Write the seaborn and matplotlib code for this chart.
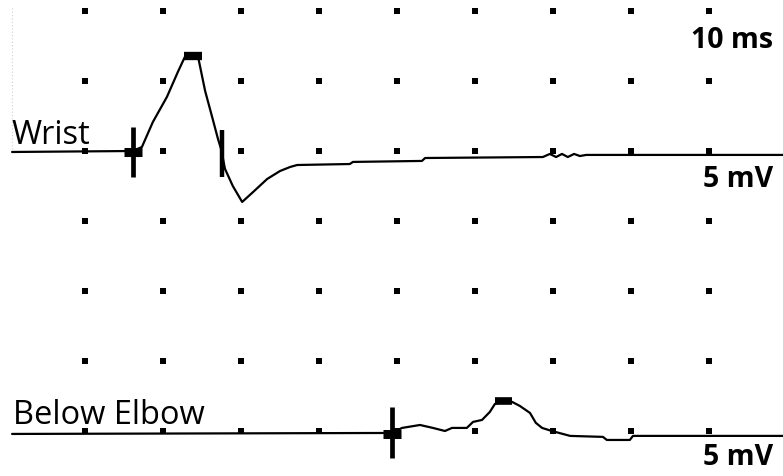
import numpy as np
import pandas as pd
import matplotlib.pyplot as plt
import seaborn as sns

# time in ms, amplitude in mV relative to each trace's own baseline
wrist_t = [0.13, 3.23, 3.46, 3.74, 4.10, 4.38, 4.56, 4.77, 4.90, 5.08, 5.26, 5.41, 5.49,
           5.59, 5.79, 6.03, 6.31, 6.67, 7.00, 7.26, 7.44, 8.79, 8.87, 10.64, 10.72,
           13.74, 13.92, 14.08, 14.23, 14.38, 14.54, 14.69, 14.85, 19.90]
wrist_mv = [0.0, 0.07, 0.36, 2.14, 3.93, 5.71, 6.79, 6.86, 6.79, 4.36, 2.50, 0.93, 0.21,
            -1.21, -2.43, -3.57, -2.86, -1.93, -1.36, -1.07, -0.93, -0.86, -0.71, -0.64, -0.43,
            -0.36, -0.14, -0.36, -0.14, -0.36, -0.14, -0.29, -0.21, -0.21]

elbow_t = [0.13, 9.87, 10.13, 10.59, 10.92, 11.23, 11.41, 11.79, 11.95, 12.18, 12.38,
           12.51, 12.72, 12.95, 13.15, 13.41, 13.56, 13.72, 13.97, 14.44, 15.28, 15.38,
           15.97, 16.05, 19.90]
elbow_mv = [0.0, 0.07, 0.43, 0.64, 0.43, 0.21, 0.43, 0.43, 0.86, 1.0, 1.57,
            2.14, 2.29, 2.29, 2.0, 1.5, 0.79, 0.43, 0.21, -0.14, -0.21, -0.43,
            -0.43, -0.14, -0.14]

# cursor latencies (ms)
wrist_onset, wrist_peak, wrist_end = 3.23, 4.77, 5.51
elbow_onset, elbow_peak = 9.87, 12.72

# baseline of each trace on the screen (mV)
wrist_base = 19.93
elbow_base = -0.21

grid_t = [2, 4, 6, 8, 10, 12, 14, 16, 18]
grid_mv = [0, 5, 10, 15, 20, 25, 30]

sns.set_theme(style="white")
plt.rcParams["font.family"] = ["Open Sans", "DejaVu Sans"]

fig = plt.figure(figsize=(7.83, 4.77), dpi=100)
ax = fig.add_axes([0, 0, 1, 1])

gx, gy = np.meshgrid(grid_t, grid_mv)
sns.scatterplot(x=gx.ravel(), y=gy.ravel(), s=14, color="black", marker="s",
                linewidth=0, ax=ax, legend=False)

traces = pd.concat([
    pd.DataFrame({"t": wrist_t, "mv": np.array(wrist_mv) + wrist_base, "site": "Wrist"}),
    pd.DataFrame({"t": elbow_t, "mv": np.array(elbow_mv) + elbow_base, "site": "Below Elbow"}),
])
sns.lineplot(data=traces, x="t", y="mv", units="site", estimator=None, sort=False,
             color="black", lw=1.6, ax=ax, legend=False)

# faint left edge marker
ax.vlines(0.13, wrist_base + 0.2, 30.3, color="#cfcfcf", lw=0.8, linestyles=(0, (1, 2)))

# cursors
def cross(t, base, up, down):
    ax.vlines(t, base - down, base + up, color="black", lw=3.4)
    ax.hlines(base, t - 0.22, t + 0.22, color="black", lw=6.5)

cross(wrist_onset, wrist_base, 1.8, 1.8)
ax.vlines(wrist_end, wrist_base - 1.8, wrist_base + 1.6, color="black", lw=3.2)
ax.hlines(wrist_base + np.interp(wrist_peak, wrist_t, wrist_mv), wrist_peak - 0.22,
          wrist_peak + 0.22, color="black", lw=6)

cross(elbow_onset, elbow_base, 1.9, 1.7)
ax.hlines(elbow_base + np.interp(elbow_peak, elbow_t, elbow_mv) + 0.05, elbow_peak - 0.22,
          elbow_peak + 0.22, color="black", lw=5.5)

ax.text(0.12, 20.6, "Wrist", fontsize=23.5, color="black", va="baseline", ha="left")
ax.text(0.15, 0.6, "Below Elbow", fontsize=23.5, color="black", va="baseline", ha="left")
ax.text(19.64, 27.43, "10 ms", fontsize=20.5, fontweight="bold", color="black",
        va="baseline", ha="right")
ax.text(19.64, 17.5, "5 mV", fontsize=20.5, fontweight="bold", color="black",
        va="baseline", ha="right")
ax.text(19.64, -2.36, "5 mV", fontsize=20.5, fontweight="bold", color="black",
        va="baseline", ha="right")

ax.set_xlim(-7 / 39, 776 / 39)
ax.set_ylim(-45 / 14, 432 / 14)
ax.axis("off")

fig.savefig("out.png", dpi=100, facecolor="white")
